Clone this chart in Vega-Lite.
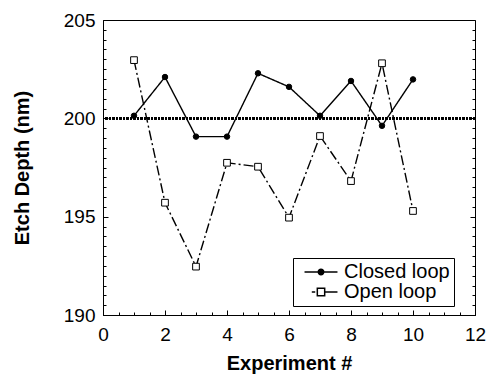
{
  "$schema": "https://vega.github.io/schema/vega-lite/v6.json",
  "width": 372,
  "height": 295,
  "autosize": "none",
  "padding": {"left": 103, "top": 20, "right": 13, "bottom": 59},
  "background": "white",
  "config": {
    "view": {"stroke": "black", "strokeWidth": 1},
    "font": "Liberation Sans",
    "axis": {
      "grid": false,
      "domainColor": "black",
      "tickColor": "black",
      "labelColor": "black",
      "titleColor": "black",
      "labelFont": "Liberation Sans",
      "titleFont": "Liberation Sans",
      "labelFontSize": 19,
      "titleFontSize": 20,
      "titleFontWeight": "bold",
      "labelFlush": false,
      "labelOverlap": false,
      "ticks": true,
      "tickWidth": 1,
      "format": "d"
    },
    "legend": {"labelFont": "Liberation Sans", "labelColor": "black"}
  },
  "data": {
    "values": [
      {"Experiment": 1, "Depth": 200.13, "Series": "Closed loop"},
      {"Experiment": 2, "Depth": 202.1, "Series": "Closed loop"},
      {"Experiment": 3, "Depth": 199.07, "Series": "Closed loop"},
      {"Experiment": 4, "Depth": 199.07, "Series": "Closed loop"},
      {"Experiment": 5, "Depth": 202.29, "Series": "Closed loop"},
      {"Experiment": 6, "Depth": 201.6, "Series": "Closed loop"},
      {"Experiment": 7, "Depth": 200.13, "Series": "Closed loop"},
      {"Experiment": 8, "Depth": 201.9, "Series": "Closed loop"},
      {"Experiment": 9, "Depth": 199.62, "Series": "Closed loop"},
      {"Experiment": 10, "Depth": 201.98, "Series": "Closed loop"},
      {"Experiment": 1, "Depth": 202.96, "Series": "Open loop"},
      {"Experiment": 2, "Depth": 195.71, "Series": "Open loop"},
      {"Experiment": 3, "Depth": 192.46, "Series": "Open loop"},
      {"Experiment": 4, "Depth": 197.74, "Series": "Open loop"},
      {"Experiment": 5, "Depth": 197.54, "Series": "Open loop"},
      {"Experiment": 6, "Depth": 194.95, "Series": "Open loop"},
      {"Experiment": 7, "Depth": 199.1, "Series": "Open loop"},
      {"Experiment": 8, "Depth": 196.81, "Series": "Open loop"},
      {"Experiment": 9, "Depth": 202.8, "Series": "Open loop"},
      {"Experiment": 10, "Depth": 195.29, "Series": "Open loop"}
    ]
  },
  "layer": [
    {
      "mark": {"type": "rule", "strokeDash": [2, 1.5], "strokeWidth": 2, "color": "black"},
      "encoding": {
        "y": {"datum": 200, "type": "quantitative", "scale": {"domain": [190, 205], "nice": false}, "axis": null}
      }
    },
    {
      "mark": {"type": "line", "color": "black", "strokeWidth": 1.4},
      "encoding": {
        "x": {
          "field": "Experiment", "type": "quantitative",
          "scale": {"domain": [0, 12], "nice": false},
          "axis": {
            "orient": "bottom",
            "title": "Experiment #",
            "values": [0,0.5,1,1.5,2,2.5,3,3.5,4,4.5,5,5.5,6,6.5,7,7.5,8,8.5,9,9.5,10,10.5,11,11.5,12],
            "labelExpr": "datum.value % 2 === 0 ? datum.label : ''",
            "tickSize": {"condition": {"test": "datum.value % 2 === 0", "value": -5}, "value": -3},
            "labelPadding": 15,
            "titlePadding": 7
          }
        },
        "y": {
          "field": "Depth", "type": "quantitative",
          "scale": {"domain": [190, 205], "nice": false},
          "axis": {
            "orient": "left",
            "title": "Etch Depth (nm)",
            "values": [190,190.5,191,191.5,192,192.5,193,193.5,194,194.5,195,195.5,196,196.5,197,197.5,198,198.5,199,199.5,200,200.5,201,201.5,202,202.5,203,203.5,204,204.5,205],
            "labelExpr": "datum.value % 5 === 0 ? datum.label : ''",
            "tickSize": {"condition": {"test": "datum.value % 5 === 0", "value": -5}, "value": -3},
            "labelPadding": 13,
            "titlePadding": 31
          }
        },
        "strokeDash": {
          "field": "Series", "type": "nominal",
          "scale": {"domain": ["Closed loop", "Open loop"], "range": [[1, 0], [10, 3, 2, 3]]},
          "legend": null
        }
      }
    },
    {
      "mark": {"type": "point", "filled": true, "stroke": "black", "strokeWidth": 1, "opacity": 1},
      "encoding": {
        "x": {
          "field": "Experiment", "type": "quantitative",
          "scale": {"domain": [0, 12], "nice": false},
          "axis": null
        },
        "y": {
          "field": "Depth", "type": "quantitative",
          "scale": {"domain": [190, 205], "nice": false},
          "axis": {
            "orient": "right", "title": null, "labels": false, "domain": false,
            "values": [190,190.5,191,191.5,192,192.5,193,193.5,194,194.5,195,195.5,196,196.5,197,197.5,198,198.5,199,199.5,200,200.5,201,201.5,202,202.5,203,203.5,204,204.5,205],
            "tickSize": {"condition": {"test": "datum.value % 5 === 0", "value": -5}, "value": -3}
          }
        },
        "shape": {
          "field": "Series", "type": "nominal",
          "scale": {"domain": ["Closed loop", "Open loop"], "range": ["circle", "square"]},
          "legend": null
        },
        "fill": {
          "field": "Series", "type": "nominal",
          "scale": {"domain": ["Closed loop", "Open loop"], "range": ["black", "white"]},
          "legend": null
        },
        "size": {
          "field": "Series", "type": "nominal",
          "scale": {"domain": ["Closed loop", "Open loop"], "range": [30, 45]},
          "legend": null
        }
      }
    },
    {
      "transform": [{"filter": "false"}],
      "mark": {"type": "point", "filled": true, "stroke": "black", "strokeWidth": 1.2, "opacity": 1},
      "encoding": {
        "shape": {
          "field": "Series", "type": "nominal",
          "scale": {
            "domain": ["Closed loop", "Open loop"],
            "range": [
              "M-2.06,0L2.06,0M-0.34,0A0.34,0.34 0 1,1 0.34,0A0.34,0.34 0 1,1 -0.34,0Z",
              "M-1.15,0L-0.72,0M-0.46,-0.46L0.46,-0.46L0.46,0.46L-0.46,0.46ZM0.46,0L2.06,0"
            ]
          },
          "legend": {
            "title": null,
            "orient": "none",
            "legendX": 190,
            "legendY": 238,
            "strokeColor": "black",
            "padding": 4,
            "symbolSize": 256,
            "symbolOffset": 14,
            "labelOffset": 13,
            "labelFontSize": 20,
            "rowPadding": -8,
            "fillColor": "white",
            "encode": {
              "legend": {"update": {"stroke": {"value": "black"}, "strokeWidth": {"value": 2}}},
              "symbols": {"update": {"stroke": {"value": "black"}, "strokeWidth": {"value": 1.2}, "opacity": {"value": 1}}}
            }
          }
        },
        "fill": {
          "field": "Series", "type": "nominal",
          "scale": {"domain": ["Closed loop", "Open loop"], "range": ["black", "white"]}
        }
      }
    }
  ],
  "resolve": {
    "scale": {"shape": "independent", "fill": "independent", "size": "independent", "strokeDash": "independent"},
    "axis": {"x": "independent", "y": "independent"}
  }
}
